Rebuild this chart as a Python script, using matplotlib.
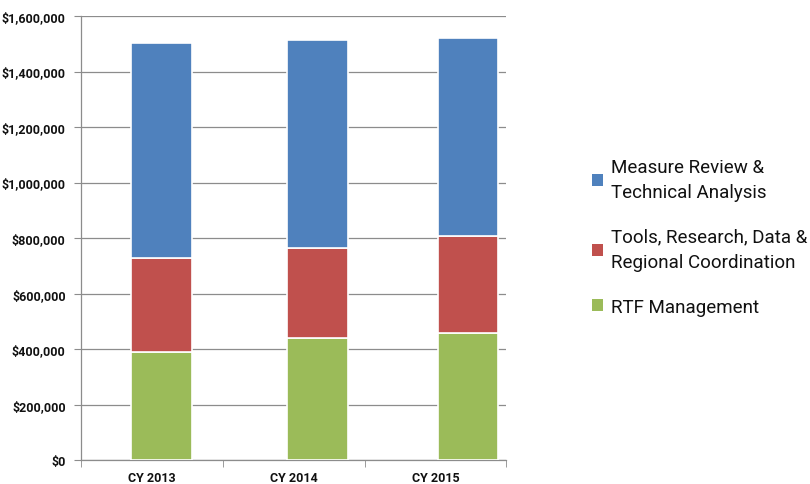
import matplotlib
matplotlib.use("Agg")
import matplotlib.pyplot as plt
from matplotlib.patches import Patch
from matplotlib.ticker import FuncFormatter, MultipleLocator
import numpy as np

# data
years = ["CY 2013", "CY 2014", "CY 2015"]
rtf_mgmt = [390000, 441000, 459000]
tools_research = [339000, 324000, 349000]
measure_review = [774000, 749000, 713000]

series_labels = [
    "Measure Review &\nTechnical Analysis",
    "Tools, Research, Data &\nRegional Coordination",
    "RTF Management",
]

BLUE = "#4F81BD"
RED = "#C0504D"
GREEN = "#9BBB59"
GRID = "#8c8c8c"

tick_font = ["Roboto", "DejaVu Sans"]
legend_font = ["Roboto", "DejaVu Sans"]

fig = plt.figure(figsize=(8.1, 4.85), dpi=100)
ax = fig.add_axes([0.1, 0.049, 0.525, 0.916])

x = np.arange(len(years))
# bars in the original sit a little right of their category centres
bar_shift = np.array([0.07, 0.17, 0.23])
xb = x + bar_shift
width = 0.43

bottom2 = np.array(rtf_mgmt)
bottom3 = bottom2 + np.array(tools_research)
bar_kw = dict(width=width, edgecolor="white", linewidth=1.2, zorder=3)
ax.bar(xb, rtf_mgmt, color=GREEN, **bar_kw)
ax.bar(xb, tools_research, bottom=bottom2, color=RED, **bar_kw)
ax.bar(xb, measure_review, bottom=bottom3, color=BLUE, **bar_kw)

ax.set_xlim(-0.5, len(years) - 0.5)
ax.set_ylim(0, 1600000)
ax.yaxis.set_major_locator(MultipleLocator(200000))
ax.yaxis.set_major_formatter(FuncFormatter(lambda v, p: f"${v:,.0f}"))
ax.grid(axis="y", color=GRID, linewidth=0.9, zorder=0)

ax.set_xticks(x)
ax.set_xticklabels(years)
ax.set_xticks(np.arange(len(years) + 1) - 0.5, minor=True)
ax.tick_params(axis="x", which="major", length=0, pad=8)
ax.tick_params(axis="x", which="minor", length=5, color=GRID, direction="out")
ax.tick_params(axis="y", length=5, color=GRID, pad=6)

for lbl in ax.get_xticklabels() + ax.get_yticklabels():
    lbl.set_family(tick_font)
    lbl.set_fontsize(9)
    lbl.set_fontweight("bold")
    lbl.set_color("#111111")

for side in ("top", "right"):
    ax.spines[side].set_visible(False)
for side in ("left", "bottom"):
    ax.spines[side].set_color(GRID)
    ax.spines[side].set_linewidth(0.9)

handles = [Patch(facecolor=c, edgecolor="none") for c in (BLUE, RED, GREEN)]
leg = fig.legend(
    handles, series_labels,
    loc="center left", bbox_to_anchor=(0.71, 0.51),
    frameon=False, handlelength=0.6, handleheight=0.6,
    handletextpad=0.4, labelspacing=1.4,
    prop={"family": legend_font, "size": 13.5},
)
for t in leg.get_texts():
    t.set_linespacing(1.55)
    t.set_color("#111111")

fig.savefig("out.png", dpi=100)
